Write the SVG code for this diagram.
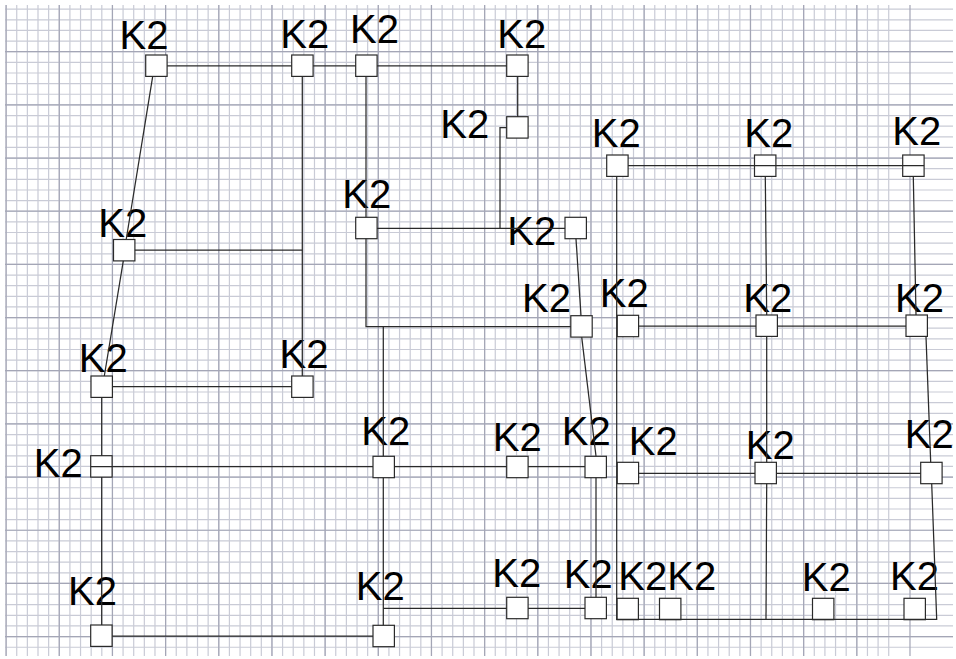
<svg xmlns="http://www.w3.org/2000/svg" width="956" height="659" viewBox="0 0 956 659">
<style>
.minor{fill:none;stroke:#c9cbd6;stroke-width:1.2}
.major{fill:none;stroke:#a4a6b6;stroke-width:1.2}
.node rect{fill:#ffffff;stroke:#2a2a2a;stroke-width:1.2}
.node text{font-family:"Liberation Sans",Arial,sans-serif;font-size:40px;fill:#000000;text-anchor:middle}
#connectors path{fill:none;stroke:#2a2a2a;stroke-width:1.25}
</style>
<rect x="0" y="0" width="956" height="659" fill="#ffffff"/>
<g id="grid">
<path class="minor" d="M6.1 5v651m10.634-651v651m10.634-651v651m10.634-651v651m10.634-651v651m10.634-651v651m10.634-651v651m10.634-651v651m10.634-651v651m10.634-651v651m10.634-651v651m10.634-651v651m10.634-651v651m10.634-651v651m10.634-651v651m10.634-651v651m10.634-651v651m10.634-651v651m10.634-651v651m10.634-651v651m10.634-651v651m10.634-651v651m10.634-651v651m10.634-651v651m10.634-651v651m10.634-651v651m10.634-651v651m10.634-651v651m10.634-651v651m10.634-651v651m10.634-651v651m10.634-651v651m10.634-651v651m10.634-651v651m10.634-651v651m10.634-651v651m10.634-651v651m10.634-651v651m10.634-651v651m10.634-651v651m10.634-651v651m10.634-651v651m10.634-651v651m10.634-651v651m10.634-651v651m10.634-651v651m10.634-651v651m10.634-651v651m10.634-651v651m10.634-651v651m10.634-651v651m10.634-651v651m10.634-651v651m10.634-651v651m10.634-651v651m10.634-651v651m10.634-651v651m10.634-651v651m10.634-651v651m10.634-651v651m10.634-651v651m10.634-651v651m10.634-651v651m10.634-651v651m10.634-651v651m10.634-651v651m10.634-651v651m10.634-651v651m10.634-651v651m10.634-651v651m10.634-651v651m10.634-651v651m10.634-651v651m10.634-651v651m10.634-651v651m10.634-651v651m10.634-651v651m10.634-651v651m10.634-651v651m10.634-651v651m10.634-651v651m10.634-651v651m10.634-651v651m10.634-651v651"/>
<path class="minor" d="M5 9.2h948m-948 10.634h948m-948 10.634h948m-948 10.634h948m-948 10.634h948m-948 10.634h948m-948 10.634h948m-948 10.634h948m-948 10.634h948m-948 10.634h948m-948 10.634h948m-948 10.634h948m-948 10.634h948m-948 10.634h948m-948 10.634h948m-948 10.634h948m-948 10.634h948m-948 10.634h948m-948 10.634h948m-948 10.634h948m-948 10.634h948m-948 10.634h948m-948 10.634h948m-948 10.634h948m-948 10.634h948m-948 10.634h948m-948 10.634h948m-948 10.634h948m-948 10.634h948m-948 10.634h948m-948 10.634h948m-948 10.634h948m-948 10.634h948m-948 10.634h948m-948 10.634h948m-948 10.634h948m-948 10.634h948m-948 10.634h948m-948 10.634h948m-948 10.634h948m-948 10.634h948m-948 10.634h948m-948 10.634h948m-948 10.634h948m-948 10.634h948m-948 10.634h948m-948 10.634h948m-948 10.634h948m-948 10.634h948m-948 10.634h948m-948 10.634h948m-948 10.634h948m-948 10.634h948m-948 10.634h948m-948 10.634h948m-948 10.634h948m-948 10.634h948m-948 10.634h948m-948 10.634h948m-948 10.634h948m-948 10.634h948"/>
<path class="major" d="M6.1 5v651m53.17-651v651m53.17-651v651m53.17-651v651m53.17-651v651m53.17-651v651m53.17-651v651m53.17-651v651m53.17-651v651m53.17-651v651m53.17-651v651m53.17-651v651m53.17-651v651m53.17-651v651m53.17-651v651m53.17-651v651m53.17-651v651m53.17-651v651"/>
<path class="major" d="M5 51.7h948m-948 53.17h948m-948 53.17h948m-948 53.17h948m-948 53.17h948m-948 53.17h948m-948 53.17h948m-948 53.17h948m-948 53.17h948m-948 53.17h948m-948 53.17h948m-948 53.17h948"/>
</g>
<g id="nodes">
<g id="n1" class="node"><rect x="145.7" y="55" width="21.4" height="21.4"/><text x="144" y="49.3">K2</text></g>
<g id="n2" class="node"><rect x="291.7" y="55" width="21.4" height="21.4"/><text x="304.8" y="48.3">K2</text></g>
<g id="n3" class="node"><rect x="355.7" y="55" width="21.4" height="21.4"/><text x="374.5" y="43.3">K2</text></g>
<g id="n4" class="node"><rect x="506.7" y="55" width="21.4" height="21.4"/><text x="521.8" y="48.3">K2</text></g>
<g id="n5" class="node"><rect x="506.7" y="116.7" width="21.4" height="21.4"/><text x="464.7" y="138.3">K2</text></g>
<g id="n6" class="node"><rect x="355.7" y="217.3" width="21.4" height="21.4"/><text x="366.8" y="208.3">K2</text></g>
<g id="n7" class="node"><rect x="565" y="217.3" width="21.4" height="21.4"/><text x="531.8" y="245">K2</text></g>
<g id="n8" class="node"><rect x="606.7" y="155" width="21.4" height="21.4"/><text x="616.2" y="146.7">K2</text></g>
<g id="n9" class="node"><rect x="754.5" y="155" width="21.4" height="21.4"/><text x="768.8" y="146.7">K2</text></g>
<g id="n10" class="node"><rect x="902.7" y="155" width="21.4" height="21.4"/><text x="916.7" y="145">K2</text></g>
<g id="n11" class="node"><rect x="113.5" y="239.5" width="21.4" height="21.4"/><text x="122.8" y="236.7">K2</text></g>
<g id="n12" class="node"><rect x="91" y="376" width="21.4" height="21.4"/><text x="103.2" y="371.7">K2</text></g>
<g id="n13" class="node"><rect x="291.7" y="376" width="21.4" height="21.4"/><text x="304" y="368.3">K2</text></g>
<g id="n14" class="node"><rect x="570.8" y="315.7" width="21.4" height="21.4"/><text x="546.5" y="311.7">K2</text></g>
<g id="n15" class="node"><rect x="617.2" y="315.3" width="21.4" height="21.4"/><text x="624.3" y="306.7">K2</text></g>
<g id="n16" class="node"><rect x="756" y="315" width="21.4" height="21.4"/><text x="767.8" y="311.7">K2</text></g>
<g id="n17" class="node"><rect x="906" y="315" width="21.4" height="21.4"/><text x="919.5" y="311.7">K2</text></g>
<g id="n18" class="node"><rect x="90.7" y="455.7" width="21.4" height="21.4"/><text x="58.3" y="477.3">K2</text></g>
<g id="n19" class="node"><rect x="373" y="456.3" width="21.4" height="21.4"/><text x="385.8" y="445">K2</text></g>
<g id="n20" class="node"><rect x="506.7" y="456.3" width="21.4" height="21.4"/><text x="517.3" y="450.7">K2</text></g>
<g id="n21" class="node"><rect x="585" y="456.3" width="21.4" height="21.4"/><text x="586.2" y="445">K2</text></g>
<g id="n22" class="node"><rect x="617.2" y="462.3" width="21.4" height="21.4"/><text x="653.2" y="455">K2</text></g>
<g id="n23" class="node"><rect x="755" y="462.3" width="21.4" height="21.4"/><text x="770.3" y="459.3">K2</text></g>
<g id="n24" class="node"><rect x="920.7" y="462.3" width="21.4" height="21.4"/><text x="929.2" y="448.3">K2</text></g>
<g id="n25" class="node"><rect x="90.7" y="625" width="21.4" height="21.4"/><text x="92.5" y="605">K2</text></g>
<g id="n26" class="node"><rect x="373" y="625.3" width="21.4" height="21.4"/><text x="380.3" y="600">K2</text></g>
<g id="n27" class="node"><rect x="506.7" y="597.3" width="21.4" height="21.4"/><text x="516.8" y="586.7">K2</text></g>
<g id="n28" class="node"><rect x="585" y="597.3" width="21.4" height="21.4"/><text x="588.2" y="588.3">K2</text></g>
<g id="n29" class="node"><rect x="617" y="598.3" width="21.4" height="21.4"/><text x="642.8" y="590">K2</text></g>
<g id="n30" class="node"><rect x="659.5" y="598.3" width="21.4" height="21.4"/><text x="691.7" y="590">K2</text></g>
<g id="n31" class="node"><rect x="812.5" y="598.3" width="21.4" height="21.4"/><text x="826.2" y="591">K2</text></g>
<g id="n32" class="node"><rect x="904" y="598.3" width="21.4" height="21.4"/><text x="914.5" y="590">K2</text></g>
</g>
<g id="connectors">
<path d="M167.1 65.8H291.7"/>
<path d="M152.7 76.4L126.2 239.5"/>
<path d="M313.1 65.8H355.7"/>
<path d="M377.1 65.8H506.7"/>
<path d="M517.7 76.4V116.7"/>
<path d="M506.7 127.7H500V228.3"/>
<path d="M366 76.4V217.3"/>
<path d="M377.1 228.3H565"/>
<path d="M302.3 76.4V376"/>
<path d="M134.9 250H302.3"/>
<path d="M123.3 260.9L104.3 376"/>
<path d="M112.4 386.7H291.7"/>
<path d="M101.7 397.4V455.7"/>
<path d="M101.7 477.1V625"/>
<path d="M90.7 466.7H373"/>
<path d="M394.4 466.7H506.7"/>
<path d="M528.1 466.7H585"/>
<path d="M112.1 636H373"/>
<path d="M366 238.7V326.7H570.8"/>
<path d="M383.3 326.7V456.3"/>
<path d="M383.3 477.7V625.3"/>
<path d="M383.3 608.3H506.7"/>
<path d="M528.1 608.3H585"/>
<path d="M596 477.7V597.3"/>
<path d="M576 238.7L581 315.7"/>
<path d="M581.7 337.1L596 456.3"/>
<path d="M628.1 165.7H924.1"/>
<path d="M616.7 176.4V619.3H936.7L931.7 483.7"/>
<path d="M765.3 176.4L766.7 315"/>
<path d="M913.3 176.4L916 315"/>
<path d="M638.6 326H756"/>
<path d="M777.4 326H906"/>
<path d="M766.7 336.4V462.3"/>
<path d="M926 336.4L930.7 462.3"/>
<path d="M638.6 473.3H755"/>
<path d="M776.4 473.3H920.7"/>
<path d="M766.7 483.7L766 619.3"/>
</g>
</svg>
